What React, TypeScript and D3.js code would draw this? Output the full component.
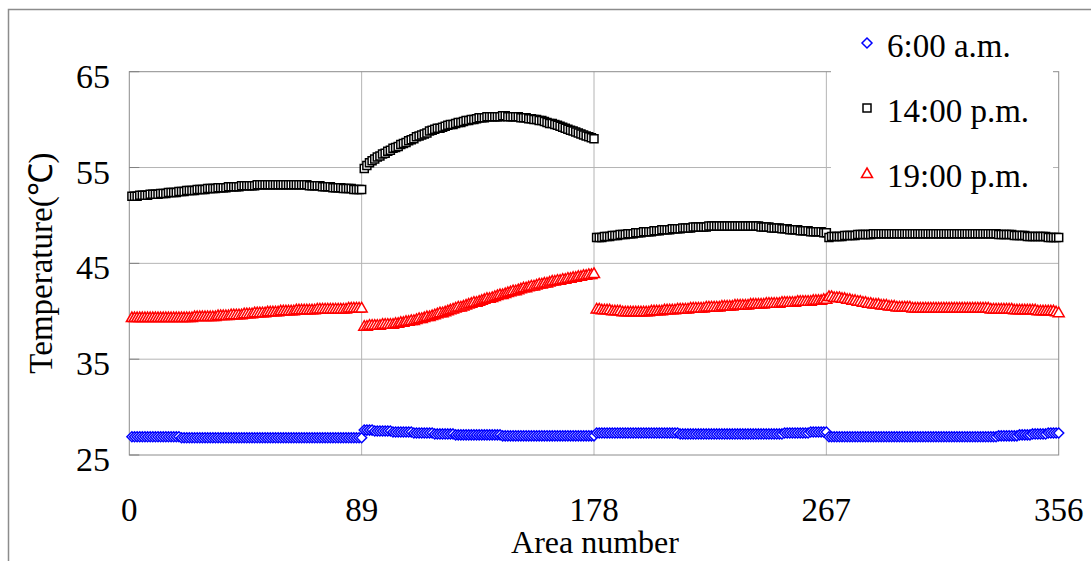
import React from 'react'
import * as d3 from 'd3'

// chart size (the page is photographed at 1091x561)
const W = 1091
const H = 561

const xTicks = [0, 89, 178, 267, 356]
const yTicks = [25, 35, 45, 55, 65]
const seriesNames = ['6:00 a.m.', '14:00 p.m.', '19:00 p.m.']

// temperatures per area number 1..356
const am6 = [
  // 1-89
  26.9, 26.9, 26.9, 26.9, 26.9, 26.9, 26.9, 26.9, 26.9, 26.9,
  26.9, 26.9, 26.9, 26.9, 26.9, 26.9, 26.9, 26.9, 26.9, 26.8,
  26.8, 26.8, 26.8, 26.8, 26.8, 26.8, 26.8, 26.8, 26.8, 26.8,
  26.8, 26.8, 26.8, 26.8, 26.8, 26.8, 26.8, 26.8, 26.8, 26.8,
  26.8, 26.8, 26.8, 26.8, 26.8, 26.8, 26.8, 26.8, 26.8, 26.8,
  26.8, 26.8, 26.8, 26.8, 26.8, 26.8, 26.8, 26.8, 26.8, 26.8,
  26.8, 26.8, 26.8, 26.8, 26.8, 26.8, 26.8, 26.8, 26.8, 26.8,
  26.8, 26.8, 26.8, 26.8, 26.8, 26.8, 26.8, 26.8, 26.8, 26.8,
  26.8, 26.8, 26.8, 26.8, 26.8, 26.8, 26.8, 26.8, 26.8,
  // 90-178
  27.6, 27.6, 27.6, 27.6, 27.5, 27.5, 27.5, 27.5, 27.5, 27.5,
  27.5, 27.4, 27.4, 27.4, 27.4, 27.4, 27.4, 27.4, 27.4, 27.3,
  27.3, 27.3, 27.3, 27.3, 27.3, 27.3, 27.3, 27.2, 27.2, 27.2,
  27.2, 27.2, 27.2, 27.2, 27.2, 27.1, 27.1, 27.1, 27.1, 27.1,
  27.1, 27.1, 27.1, 27.1, 27.1, 27.1, 27.1, 27.1, 27.1, 27.1,
  27.1, 27.1, 27.1, 27.0, 27.0, 27.0, 27.0, 27.0, 27.0, 27.0,
  27.0, 27.0, 27.0, 27.0, 27.0, 27.0, 27.0, 27.0, 27.0, 27.0,
  27.0, 27.0, 27.0, 27.0, 27.0, 27.0, 27.0, 27.0, 27.0, 27.0,
  27.0, 27.0, 27.0, 27.0, 27.0, 27.0, 27.0, 27.0, 27.0,
  // 179-267
  27.3, 27.3, 27.3, 27.3, 27.3, 27.3, 27.3, 27.3, 27.3, 27.3,
  27.3, 27.3, 27.3, 27.3, 27.3, 27.3, 27.3, 27.3, 27.3, 27.3,
  27.3, 27.3, 27.3, 27.3, 27.3, 27.3, 27.3, 27.3, 27.3, 27.3,
  27.3, 27.3, 27.2, 27.2, 27.2, 27.2, 27.2, 27.2, 27.2, 27.2,
  27.2, 27.2, 27.2, 27.2, 27.2, 27.2, 27.2, 27.2, 27.2, 27.2,
  27.2, 27.2, 27.2, 27.2, 27.2, 27.2, 27.2, 27.2, 27.2, 27.2,
  27.2, 27.2, 27.2, 27.2, 27.2, 27.2, 27.2, 27.2, 27.2, 27.2,
  27.2, 27.2, 27.3, 27.3, 27.3, 27.3, 27.3, 27.3, 27.3, 27.3,
  27.3, 27.3, 27.4, 27.4, 27.4, 27.4, 27.4, 27.4, 27.4,
  // 268-356
  26.9, 26.9, 26.9, 26.9, 26.9, 26.9, 26.9, 26.9, 26.9, 26.9,
  26.9, 26.9, 26.9, 26.9, 26.9, 26.9, 26.9, 26.9, 26.9, 26.9,
  26.9, 26.9, 26.9, 26.9, 26.9, 26.9, 26.9, 26.9, 26.9, 26.9,
  26.9, 26.9, 26.9, 26.9, 26.9, 26.9, 26.9, 26.9, 26.9, 26.9,
  26.9, 26.9, 26.9, 26.9, 26.9, 26.9, 26.9, 26.9, 26.9, 26.9,
  26.9, 26.9, 26.9, 26.9, 26.9, 26.9, 26.9, 26.9, 26.9, 26.9,
  26.9, 26.9, 26.9, 26.9, 26.9, 27.0, 27.0, 27.0, 27.0, 27.0,
  27.0, 27.0, 27.0, 27.1, 27.1, 27.1, 27.1, 27.1, 27.2, 27.2,
  27.2, 27.2, 27.2, 27.2, 27.3, 27.3, 27.3, 27.3, 27.3,
]

const pm14 = [
  // 1-89
  52.0, 52.0, 52.0, 52.1, 52.1, 52.1, 52.1, 52.2, 52.2, 52.2,
  52.2, 52.3, 52.3, 52.3, 52.4, 52.4, 52.4, 52.4, 52.5, 52.5,
  52.5, 52.6, 52.6, 52.6, 52.6, 52.7, 52.7, 52.7, 52.7, 52.8,
  52.8, 52.8, 52.8, 52.9, 52.9, 52.9, 52.9, 53.0, 53.0, 53.0,
  53.0, 53.0, 53.1, 53.1, 53.1, 53.1, 53.1, 53.1, 53.2, 53.2,
  53.2, 53.2, 53.2, 53.2, 53.2, 53.2, 53.2, 53.2, 53.2, 53.2,
  53.2, 53.2, 53.2, 53.2, 53.2, 53.2, 53.2, 53.2, 53.1, 53.1,
  53.1, 53.1, 53.1, 53.0, 53.0, 53.0, 53.0, 52.9, 52.9, 52.9,
  52.9, 52.8, 52.8, 52.8, 52.8, 52.7, 52.7, 52.7, 52.7,
  // 90-178
  54.9, 55.2, 55.5, 55.7, 55.9, 56.1, 56.2, 56.4, 56.5, 56.7,
  56.8, 57.0, 57.1, 57.2, 57.4, 57.5, 57.6, 57.8, 57.9, 58.0,
  58.2, 58.3, 58.4, 58.5, 58.6, 58.8, 58.9, 59.0, 59.1, 59.1,
  59.2, 59.3, 59.4, 59.5, 59.5, 59.6, 59.7, 59.7, 59.8, 59.9,
  59.9, 60.0, 60.0, 60.1, 60.2, 60.2, 60.2, 60.3, 60.3, 60.3,
  60.3, 60.3, 60.3, 60.4, 60.4, 60.3, 60.3, 60.3, 60.3, 60.3,
  60.2, 60.2, 60.2, 60.1, 60.1, 60.0, 60.0, 59.9, 59.9, 59.8,
  59.7, 59.6, 59.6, 59.5, 59.4, 59.3, 59.2, 59.1, 59.0, 58.9,
  58.8, 58.7, 58.6, 58.5, 58.4, 58.3, 58.2, 58.1, 58.0,
  // 179-267
  47.7, 47.7, 47.7, 47.8, 47.8, 47.8, 47.9, 47.9, 47.9, 48.0,
  48.0, 48.0, 48.1, 48.1, 48.1, 48.2, 48.2, 48.2, 48.3, 48.3,
  48.3, 48.3, 48.4, 48.4, 48.4, 48.5, 48.5, 48.5, 48.5, 48.6,
  48.6, 48.6, 48.6, 48.7, 48.7, 48.7, 48.7, 48.8, 48.8, 48.8,
  48.8, 48.8, 48.8, 48.9, 48.9, 48.9, 48.9, 48.9, 48.9, 48.9,
  48.9, 48.9, 48.9, 48.9, 48.9, 48.9, 48.9, 48.9, 48.9, 48.9,
  48.9, 48.9, 48.9, 48.8, 48.8, 48.8, 48.8, 48.7, 48.7, 48.7,
  48.7, 48.6, 48.6, 48.6, 48.5, 48.5, 48.5, 48.5, 48.4, 48.4,
  48.4, 48.4, 48.3, 48.3, 48.3, 48.3, 48.3, 48.2, 48.2,
  // 268-356
  47.7, 47.8, 47.8, 47.8, 47.8, 47.8, 47.9, 47.9, 47.9, 47.9,
  47.9, 48.0, 48.0, 48.0, 48.0, 48.0, 48.0, 48.1, 48.1, 48.1,
  48.1, 48.1, 48.1, 48.1, 48.1, 48.1, 48.1, 48.1, 48.1, 48.1,
  48.1, 48.1, 48.1, 48.1, 48.1, 48.1, 48.1, 48.1, 48.1, 48.1,
  48.1, 48.1, 48.1, 48.1, 48.1, 48.1, 48.1, 48.1, 48.1, 48.1,
  48.1, 48.1, 48.1, 48.1, 48.1, 48.1, 48.1, 48.1, 48.1, 48.1,
  48.1, 48.1, 48.1, 48.1, 48.1, 48.0, 48.0, 48.0, 48.0, 48.0,
  48.0, 47.9, 47.9, 47.9, 47.9, 47.9, 47.8, 47.8, 47.8, 47.8,
  47.8, 47.8, 47.8, 47.8, 47.7, 47.7, 47.7, 47.7, 47.7,
]

const pm19 = [
  // 1-89
  39.4, 39.4, 39.4, 39.4, 39.4, 39.4, 39.4, 39.4, 39.4, 39.4,
  39.4, 39.4, 39.4, 39.4, 39.4, 39.4, 39.4, 39.4, 39.4, 39.4,
  39.4, 39.4, 39.4, 39.4, 39.5, 39.5, 39.5, 39.5, 39.5, 39.5,
  39.5, 39.5, 39.5, 39.6, 39.6, 39.6, 39.6, 39.6, 39.7, 39.7,
  39.7, 39.7, 39.7, 39.8, 39.8, 39.8, 39.8, 39.9, 39.9, 39.9,
  39.9, 39.9, 40.0, 40.0, 40.0, 40.0, 40.0, 40.1, 40.1, 40.1,
  40.1, 40.1, 40.1, 40.2, 40.2, 40.2, 40.2, 40.2, 40.2, 40.2,
  40.2, 40.3, 40.3, 40.3, 40.3, 40.3, 40.3, 40.3, 40.3, 40.3,
  40.3, 40.3, 40.3, 40.4, 40.4, 40.4, 40.4, 40.4, 40.4,
  // 90-178
  38.5, 38.5, 38.6, 38.6, 38.6, 38.6, 38.6, 38.7, 38.7, 38.7,
  38.7, 38.7, 38.8, 38.8, 38.9, 38.9, 39.0, 39.0, 39.1, 39.1,
  39.2, 39.3, 39.3, 39.4, 39.5, 39.5, 39.6, 39.7, 39.8, 39.9,
  39.9, 40.0, 40.1, 40.2, 40.3, 40.4, 40.5, 40.5, 40.6, 40.7,
  40.8, 40.9, 41.0, 41.0, 41.1, 41.2, 41.3, 41.4, 41.4, 41.5,
  41.6, 41.7, 41.8, 41.8, 41.9, 42.0, 42.1, 42.2, 42.2, 42.3,
  42.4, 42.5, 42.5, 42.6, 42.7, 42.7, 42.8, 42.9, 42.9, 43.0,
  43.0, 43.1, 43.2, 43.2, 43.3, 43.3, 43.4, 43.4, 43.5, 43.5,
  43.6, 43.6, 43.7, 43.7, 43.8, 43.8, 43.9, 43.9, 44.0,
  // 179-267
  40.3, 40.3, 40.2, 40.2, 40.2, 40.2, 40.1, 40.1, 40.1, 40.1,
  40.0, 40.0, 40.0, 40.0, 40.0, 40.0, 40.0, 40.0, 40.0, 40.0,
  40.0, 40.1, 40.1, 40.1, 40.1, 40.1, 40.2, 40.2, 40.2, 40.2,
  40.2, 40.3, 40.3, 40.3, 40.3, 40.3, 40.4, 40.4, 40.4, 40.4,
  40.4, 40.4, 40.5, 40.5, 40.5, 40.5, 40.5, 40.5, 40.6, 40.6,
  40.6, 40.6, 40.6, 40.7, 40.7, 40.7, 40.7, 40.7, 40.7, 40.8,
  40.8, 40.8, 40.8, 40.8, 40.8, 40.9, 40.9, 40.9, 40.9, 40.9,
  40.9, 41.0, 41.0, 41.0, 41.0, 41.0, 41.0, 41.1, 41.1, 41.1,
  41.1, 41.1, 41.1, 41.2, 41.2, 41.2, 41.2, 41.3, 41.3,
  // 268-356
  41.6, 41.6, 41.5, 41.5, 41.5, 41.4, 41.4, 41.3, 41.3, 41.2,
  41.2, 41.1, 41.1, 41.0, 41.0, 40.9, 40.9, 40.8, 40.8, 40.8,
  40.7, 40.7, 40.7, 40.6, 40.6, 40.6, 40.5, 40.5, 40.5, 40.5,
  40.5, 40.5, 40.4, 40.4, 40.4, 40.4, 40.4, 40.4, 40.4, 40.4,
  40.4, 40.4, 40.4, 40.4, 40.4, 40.4, 40.4, 40.4, 40.4, 40.4,
  40.4, 40.4, 40.4, 40.4, 40.4, 40.4, 40.4, 40.4, 40.4, 40.4,
  40.4, 40.4, 40.3, 40.3, 40.3, 40.3, 40.3, 40.3, 40.3, 40.3,
  40.3, 40.2, 40.2, 40.2, 40.2, 40.2, 40.2, 40.2, 40.2, 40.2,
  40.1, 40.1, 40.1, 40.1, 40.1, 40.1, 40.1, 40.0, 39.9,
]

const seriesValues = [am6, pm14, pm19]
const seriesColors = ['#0000ff', '#000000', '#ff0000']

// marker outlines, drawn hollow (white fill) like the spreadsheet ones
const markerPath = (kind: number) => {
  if (kind === 0) return 'M0,-5L5,0L0,5L-5,0Z'
  if (kind === 1) return 'M-4,-4H4V4H-4Z'
  return 'M0,-5L5.5,4.5H-5.5Z'
}

const font = '"Liberation Serif", "Times New Roman", serif'

const App: React.FC = () => {
  const x = d3.scaleLinear().domain([0, 356]).range([129.3, 1058.7])
  const y = d3.scaleLinear().domain([25, 65]).range([455, 71.7])
  const [x0, x1] = x.range()
  const [y0, y1] = y.range()

  return (
    <svg
      width={W}
      height={H}
      style={{ position: 'absolute', left: 0, top: 0, background: '#fff' }}
    >
      {/* outer chart frame */}
      <path d={`M8.5,${H}V9.5H${W}`} fill="none" stroke="#8c8c8c" strokeWidth={1.5} />

      {/* gridlines */}
      {yTicks.slice(1, -1).map(t => (
        <line key={'gy' + t} x1={x0} x2={x1} y1={y(t)} y2={y(t)} stroke="#b4b4b4" />
      ))}
      {xTicks.slice(1, -1).map(t => (
        <line key={'gx' + t} x1={x(t)} x2={x(t)} y1={y1} y2={y0} stroke="#b4b4b4" />
      ))}

      {/* plot border + inside ticks */}
      <rect x={x0} y={y1} width={x1 - x0} height={y0 - y1} fill="none" stroke="#8c8c8c" />
      {yTicks.map(t => (
        <line key={'ty' + t} x1={x0} x2={x0 + 10} y1={y(t)} y2={y(t)} stroke="#808080" />
      ))}

      {/* series markers */}
      {seriesValues.map((vals, si) => (
        <g key={'s' + si} stroke={seriesColors[si]} fill="#fff" strokeWidth={1.5}>
          {vals.map((v, i) => (
            <path
              key={i}
              d={markerPath(si)}
              transform={`translate(${x(i + 1)},${y(v)})`}
            />
          ))}
        </g>
      ))}

      {/* y tick labels */}
      {yTicks.map(t => (
        <text
          key={'ly' + t}
          x={110}
          y={y(t) + 16}
          textAnchor="end"
          fontFamily={font}
          fontSize={34}
        >
          {t}
        </text>
      ))}

      {/* x tick labels */}
      {xTicks.map(t => (
        <text
          key={'lx' + t}
          x={x(t)}
          y={521}
          textAnchor="middle"
          fontFamily={font}
          fontSize={33}
        >
          {t}
        </text>
      ))}

      {/* axis titles */}
      <text x={595} y={553} textAnchor="middle" fontFamily={font} fontSize={32}>
        Area number
      </text>
      <text
        transform="translate(52,263) rotate(-90)"
        textAnchor="middle"
        fontFamily={font}
        fontSize={33}
      >
        Temperature(℃)
      </text>

      {/* legend */}
      <rect x={831} y={16} width={222} height={186} fill="#fff" />
      {seriesNames.map((name, i) => (
        <g key={'lg' + i}>
          <path
            d={markerPath(i)}
            transform={`translate(867,${43 + i * 65})`}
            fill="#fff"
            stroke={seriesColors[i]}
            strokeWidth={1.5}
          />
          <text x={887} y={57 + i * 65} fontFamily={font} fontSize={33}>
            {name}
          </text>
        </g>
      ))}
    </svg>
  )
}

export default App
